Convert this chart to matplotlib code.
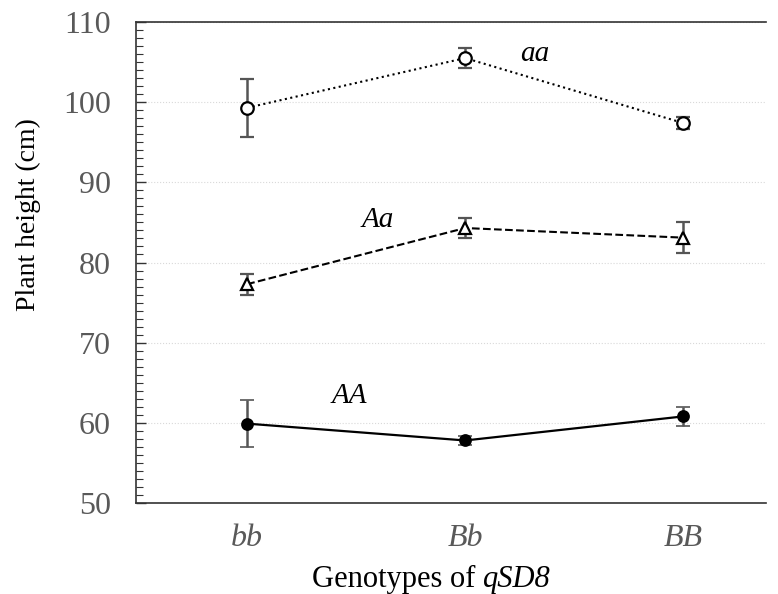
import matplotlib
matplotlib.use("Agg")
import matplotlib.pyplot as plt
from matplotlib.ticker import MultipleLocator

genotypes = ["bb", "Bb", "BB"]
aa_mean = [99.3, 105.5, 97.4]
aa_err = [3.6, 1.2, 0.8]
Aa_mean = [77.3, 84.3, 83.1]
Aa_err = [1.3, 1.3, 1.9]
AA_mean = [59.9, 57.8, 60.8]
AA_err = [2.9, 0.6, 1.2]

plt.rcParams['font.family'] = ['Liberation Serif', 'DejaVu Serif']

fig = plt.figure(figsize=(7.78, 5.94), dpi=100)
ax = fig.add_axes([136/778, 1-503/594, (766-136)/778, (503-22)/594])

x = list(range(len(genotypes)))
ecol = '#555555'
ax.errorbar(x, aa_mean, yerr=aa_err, color='black', linestyle=':', linewidth=1.5,
            marker='o', markersize=9, markerfacecolor='white', markeredgewidth=1.6,
            ecolor=ecol, elinewidth=1.8, capsize=5, capthick=1.8, zorder=3)
ax.errorbar(x, Aa_mean, yerr=Aa_err, color='black', linestyle='--', linewidth=1.5,
            marker='^', markersize=8, markerfacecolor='white', markeredgewidth=1.6,
            ecolor=ecol, elinewidth=1.8, capsize=5, capthick=1.8, zorder=3)
ax.errorbar(x, AA_mean, yerr=AA_err, color='black', linestyle='-', linewidth=1.6,
            marker='o', markersize=8, markerfacecolor='black', markeredgewidth=1.2,
            ecolor=ecol, elinewidth=1.8, capsize=5, capthick=1.8, zorder=3)

ax.text(1.32, 106.0, "aa", fontsize=21, style='italic', ha='center', va='center')
ax.text(0.6, 85.3, "Aa", fontsize=21, style='italic', ha='center', va='center')
ax.text(0.47, 63.3, "AA", fontsize=21, style='italic', ha='center', va='center')

ax.set_ylim(50, 110)
ax.set_xlim(-0.51, 2.38)
ax.yaxis.set_major_locator(MultipleLocator(10))
ax.yaxis.set_minor_locator(MultipleLocator(1))
ax.tick_params(axis='y', which='major', direction='in', length=7, width=1, colors='#333333',
               labelcolor='#595959', labelsize=23, pad=18)
ax.tick_params(axis='y', which='minor', direction='in', length=5, width=0.8, colors='#333333')
ax.tick_params(axis='x', length=0, labelcolor='#595959', labelsize=23, pad=15)
ax.set_xticks(x)
ax.set_xticklabels(genotypes, style='italic')
ax.grid(axis='y', which='major', color='#d9d9d9', linestyle=':', linewidth=0.8)
ax.set_axisbelow(True)

for s in ['left', 'bottom', 'top']:
    ax.spines[s].set_color('#333333')
    ax.spines[s].set_linewidth(1.2)
ax.spines['right'].set_visible(False)

ax.set_ylabel("Plant height (cm)", fontsize=20)
ax.yaxis.set_label_coords(-0.15, 0.599)

# x-axis label: regular part + italic locus name
t1 = fig.text(431/778, 1-579/594, "Genotypes of ", fontsize=22, ha='right', va='center')
t2 = ax.annotate("qSD8", xy=(1, 0), xycoords=t1, fontsize=22, style='italic',
                 ha='left', va='bottom', annotation_clip=False)
fig.canvas.draw()
r = fig.canvas.get_renderer()
w1 = t1.get_window_extent(r).width
w2 = t2.get_window_extent(r).width
t1.set_x((431 - (w1 + w2) / 2 + w1) / 778)

fig.savefig("out.png", dpi=100)
